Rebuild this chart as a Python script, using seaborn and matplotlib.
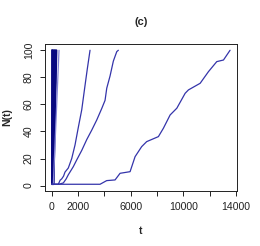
import numpy as np
import pandas as pd
import seaborn as sns
import matplotlib
matplotlib.use("Agg")
import matplotlib.pyplot as plt

# counting curves N(t) (t, N breakpoints)
slow_t = [0, 3670, 4175, 4810, 5190, 5950, 6330, 6830, 7210, 8100, 8480,
          8990, 9500, 10130, 10380, 11270, 11900, 12530, 13040, 13540]
slow_n = [1, 1, 3.7, 4.2, 9.1, 10.3, 21.4, 28.8, 32.5, 36.2, 42.4,
          52.2, 57.2, 68.2, 70.7, 75.6, 84.2, 91.6, 92.8, 100]

mid_t = [0, 550, 885, 1100, 1260, 1640, 1900, 2280, 2660, 3040, 3420,
         3800, 4050, 4180, 4430, 4680, 4940, 5060]
mid_n = [1, 1, 2, 5, 8, 14, 19, 26, 34, 41, 48.5,
         57, 63, 72, 81, 92, 99, 100]

quick_t = [0, 500, 640, 760, 900, 1010, 1260, 1520, 1770, 2020, 2280,
           2530, 2700, 2910]
quick_n = [1, 1, 4, 5, 7, 10, 13, 20, 30, 43, 56, 74, 86, 100]

light_t = [125, 555]
light_n = [1.5, 100]

# near-vertical dark runs close to t = 0
burst_start_t = [0, 15, 30, 50, 70, 90, 110, 130, 150]
burst_end_t = [0, 45, 90, 135, 180, 225, 270, 320, 370]
burst_n = [1, 100]

x_ticks = [0, 2000, 4000, 6000, 8000, 10000, 12000, 14000]
x_labels = ["0", "2000", "", "6000", "", "10000", "", "14000"]
y_ticks = [0, 20, 40, 60, 80, 100]

sns.set_style("ticks")
plt.rcParams["font.family"] = ["Liberation Sans", "DejaVu Sans"]

fig = plt.figure(figsize=(2.6, 2.46), dpi=100)
ax = fig.add_axes([0.173, 0.224, 0.739, 0.597])

dark = "#08087f"
mid = "#3434aa"
pale = "#8585d6"

for s, e in zip(burst_start_t, burst_end_t):
    sns.lineplot(x=[s, e], y=burst_n, sort=False, estimator=None,
                 color=dark, lw=1.2, ax=ax)
sns.lineplot(x=light_t, y=light_n, sort=False, estimator=None,
             color=pale, lw=0.9, ax=ax)
for t, n in [(quick_t, quick_n), (mid_t, mid_n), (slow_t, slow_n)]:
    sns.lineplot(x=t, y=n, sort=False, estimator=None,
                 color=mid, lw=0.9, ax=ax)

ax.set_xlim(-510, 14076)
ax.set_ylim(-3.9, 104.6)
ax.set_xticks(x_ticks)
ax.set_xticklabels(x_labels)
ax.set_yticks(y_ticks)
ax.set_yticklabels([str(v) for v in y_ticks], rotation=90, va="center")

for sp in ax.spines.values():
    sp.set_linewidth(0.7)
    sp.set_color("#222222")
ax.tick_params(axis="both", length=3.6, width=0.7, pad=4.5,
               labelsize=7.6, colors="#222222")

ax.set_xlabel("t", fontsize=7.6, fontweight="bold", labelpad=10)
ax.set_ylabel("N(t)", fontsize=7.6, fontweight="bold", labelpad=8)
ax.set_title("(c)", fontsize=8, fontweight="bold", pad=14)

fig.savefig("out.png", dpi=100)
